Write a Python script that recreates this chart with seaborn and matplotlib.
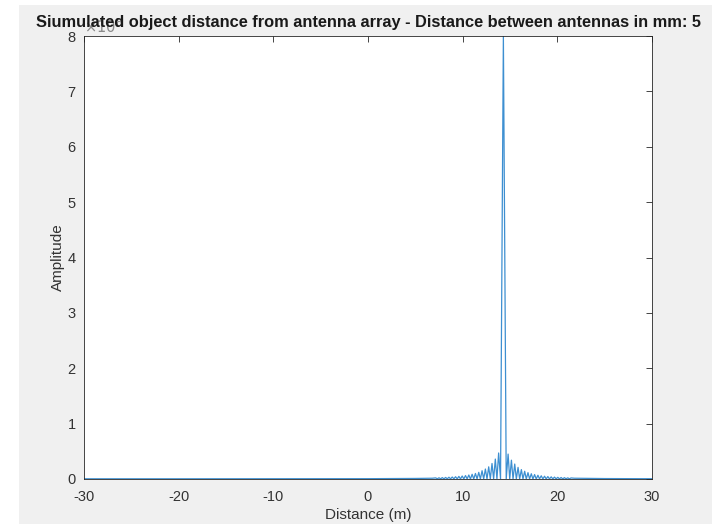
import numpy as np
import pandas as pd
import matplotlib
matplotlib.use("Agg")
import matplotlib.pyplot as plt
import seaborn as sns
from matplotlib.patches import Rectangle

# ---- data (amplitude in units of the x10^n offset) ----
main_dist = [14.30]
main_amp = [8.00]

left_peak_dist = [13.80, 13.45, 13.10, 12.75, 12.40, 12.05, 11.70, 11.35, 11.00, 10.65,
                  10.30, 9.95, 9.60, 9.25, 8.90, 8.55, 8.20, 7.85, 7.50, 7.15]
left_peak_amp = [0.47, 0.36, 0.28, 0.22, 0.18, 0.15, 0.12, 0.10, 0.085, 0.072,
                 0.062, 0.054, 0.047, 0.041, 0.036, 0.032, 0.028, 0.025, 0.022, 0.020]
left_trough_dist = [14.00, 13.62, 13.27, 12.92, 12.57, 12.22, 11.87, 11.52, 11.17, 10.82,
                    10.47, 10.12, 9.77, 9.42, 9.07, 8.72, 8.37, 8.02, 7.67, 7.32]
left_trough_amp = [0.0, 0.0, 0.0, 0.0, 0.0, 0.0, 0.0, 0.0, 0.0, 0.0,
                   0.002, 0.002, 0.002, 0.002, 0.003, 0.003, 0.003, 0.003, 0.004, 0.004]

right_peak_dist = [14.80, 15.15, 15.50, 15.85, 16.20, 16.55, 16.90, 17.25, 17.60, 17.95,
                   18.30, 18.65, 19.00, 19.35, 19.70, 20.05, 20.40, 20.75, 21.10, 21.45]
right_peak_amp = [0.45, 0.34, 0.27, 0.21, 0.17, 0.14, 0.115, 0.095, 0.08, 0.068,
                  0.058, 0.05, 0.044, 0.039, 0.034, 0.030, 0.027, 0.024, 0.021, 0.019]
right_trough_dist = [14.60, 14.97, 15.32, 15.67, 16.02, 16.37, 16.72, 17.07, 17.42, 17.77,
                     18.12, 18.47, 18.82, 19.17, 19.52, 19.87, 20.22, 20.57, 20.92, 21.27]
right_trough_amp = [0.0, 0.0, 0.0, 0.0, 0.0, 0.0, 0.0, 0.0, 0.0, 0.0,
                    0.002, 0.002, 0.002, 0.002, 0.003, 0.003, 0.003, 0.003, 0.004, 0.004]

tail_dist = [-30.0, -20.0, -10.0, 0.0, 5.0, 6.8, 21.8, 25.0, 30.0]
tail_amp = [0.004, 0.004, 0.005, 0.006, 0.010, 0.014, 0.014, 0.008, 0.005]

x_ticks = [-30, -20, -10, 0, 10, 20, 30]
y_ticks = [0, 1, 2, 3, 4, 5, 6, 7, 8]

title = "Siumulated object distance from antenna array - Distance between antennas in mm: 5"
xlabel = "Distance (m)"
ylabel = "Amplitude"

df = pd.DataFrame({
    "Distance": main_dist + left_peak_dist + left_trough_dist + right_peak_dist
                + right_trough_dist + tail_dist,
    "Amplitude": main_amp + left_peak_amp + left_trough_amp + right_peak_amp
                 + right_trough_amp + tail_amp,
}).sort_values("Distance").reset_index(drop=True)

# ---- styling ----
sns.set_theme(style="white")
plt.rcParams["font.family"] = ["Liberation Sans", "DejaVu Sans"]
plt.rcParams["xtick.direction"] = "in"
plt.rcParams["ytick.direction"] = "in"

fig = plt.figure(figsize=(7.12, 5.24), dpi=100, facecolor="white")
fig.patches.append(Rectangle((19 / 712, 0), 1 - 19 / 712, (524 - 5) / 524,
                             transform=fig.transFigure, facecolor="#f0f0f0",
                             edgecolor="none", zorder=-10))

ax = fig.add_axes([84 / 712, (524 - 479) / 524, (652 - 84) / 712, (479 - 36) / 524])
ax.set_facecolor("white")

sns.lineplot(data=df, x="Distance", y="Amplitude", ax=ax, color="#3d8fd1",
             linewidth=0.9, estimator=None, sort=True)

ax.set_xlim(-30, 30)
ax.set_ylim(0, 8)
ax.set_xticks(x_ticks)
ax.set_yticks(y_ticks)
ax.set_xticklabels([str(t) for t in x_ticks])
ax.set_yticklabels([str(t) for t in y_ticks])
ax.tick_params(axis="both", which="both", direction="in", length=4, width=0.6,
               color="#262626", labelsize=10.5, labelcolor="#333333",
               top=True, right=True)
ax.tick_params(axis="x", pad=8)
ax.tick_params(axis="y", pad=6)
for s in ax.spines.values():
    s.set_color("#262626")
    s.set_linewidth(0.6)
    s.set_visible(True)

ax.set_xlabel(xlabel, fontsize=11, color="#333333", labelpad=3)
ax.set_ylabel(ylabel, fontsize=11, color="#333333", labelpad=2)

# exponent label (partially hidden behind the title in the reference)
fig.text(84 / 712, 1 - 36 / 524, r"$\times10^{8}$", fontsize=10.5, color="#8a8a8a",
         ha="left", va="bottom")
fig.text(368 / 712, 1 - 23 / 524, title, fontsize=11.8, fontweight="bold",
         color="#1a1a1a", ha="center", va="center")

fig.savefig("out.png", dpi=100, facecolor=fig.get_facecolor())
